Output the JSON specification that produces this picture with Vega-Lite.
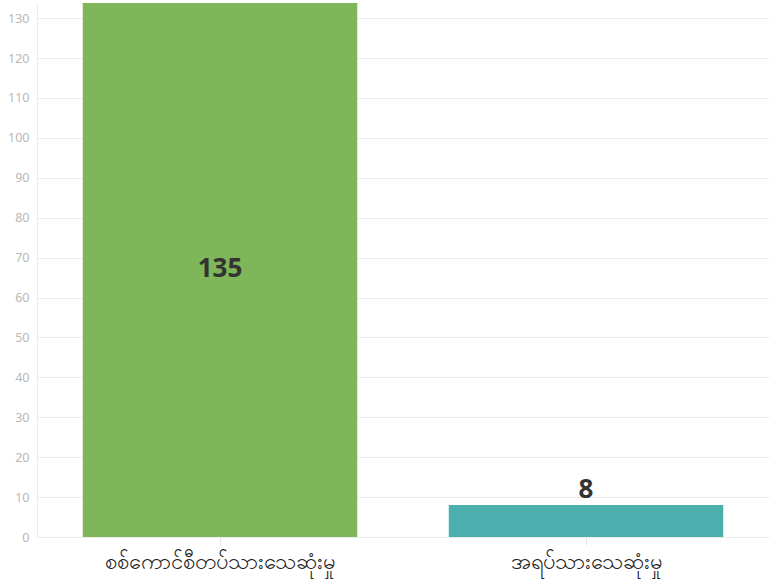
{
  "$schema": "https://vega.github.io/schema/vega-lite/v6.json",
  "width": 732,
  "height": 534,
  "autosize": {"type": "none"},
  "padding": {"left": 37, "top": 3, "right": 2, "bottom": 49},
  "background": "white",
  "config": {"view": {"stroke": null}, "font": "Noto Sans"},
  "data": {"values": [
    {"category": "စစ်ကောင်စီတပ်သားသေဆုံးမှု", "value": 135, "inside": true},
    {"category": "အရပ်သားသေဆုံးမှု", "value": 8, "inside": false}
  ]},
  "encoding": {
    "x": {"field": "category", "type": "nominal", "sort": null,
      "scale": {"paddingInner": 0.25, "paddingOuter": 0.125},
      "axis": {"title": null, "labelAngle": 0, "labelFontSize": 22, "labelColor": "#222", "labelPadding": 6, "labelLimit": 0,
        "domain": false, "tickColor": "#e6e6e6", "tickSize": 8, "grid": false}},
    "y": {"field": "value", "type": "quantitative",
      "scale": {"domain": [0, 133.8], "nice": false},
      "axis": {"title": null, "values": [0,10,20,30,40,50,60,70,80,90,100,110,120,130],
        "labelColor": "#b8b8b8", "labelFontSize": 12.5, "gridColor": "#ececec", "domain": true, "domainColor": "#ececec",
        "ticks": false, "labelPadding": 8}}
  },
  "layer": [
    {"mark": {"type": "bar", "clip": true},
     "encoding": {"color": {"field": "category", "type": "nominal", "sort": null, "legend": null,
       "scale": {"range": ["#7fb65a", "#4daeae"]}}}},
    {"transform": [{"filter": "datum.inside"}, {"calculate": "datum.value / 2", "as": "mid"}],
     "mark": {"type": "text", "fontSize": 26, "fontWeight": "bold", "color": "#333", "baseline": "alphabetic", "dy": 9},
     "encoding": {"y": {"field": "mid", "type": "quantitative"}, "text": {"field": "value"}}},
    {"transform": [{"filter": "!datum.inside"}],
     "mark": {"type": "text", "fontSize": 26, "fontWeight": "bold", "color": "#333", "baseline": "alphabetic", "dy": -7},
     "encoding": {"text": {"field": "value"}}}
  ]
}
